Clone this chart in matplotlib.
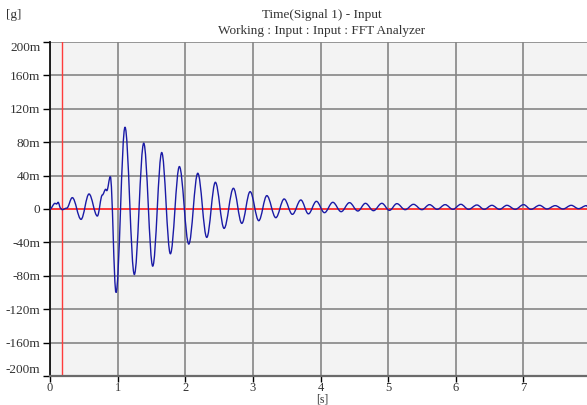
import matplotlib
matplotlib.use("Agg")
import matplotlib.pyplot as plt
from matplotlib.path import Path
from matplotlib.patches import PathPatch

# ---- data (time in s, value in milli-g) ----
ext_t = [0.0, 0.074, 0.097, 0.12, 0.158, 0.18, 0.247, 0.33, 0.459, 0.577, 0.70,
         0.774, 0.824, 0.84, 0.892, 0.976, 1.109, 1.247, 1.386, 1.519, 1.652,
         1.78, 1.913, 2.052, 2.185, 2.318, 2.445, 2.574, 2.712, 2.836, 2.959,
         3.087, 3.206, 3.339, 3.462, 3.584, 3.709, 3.821, 3.939, 4.058, 4.182,
         4.305, 4.428, 4.552, 4.664, 4.783, 4.907, 5.019, 5.129, 5.251, 5.374,
         5.499, 5.611, 5.725, 5.843, 5.957, 6.075, 6.188, 6.312, 6.42, 6.534,
         6.646, 6.756, 6.879, 7.002, 7.111, 7.238, 7.348, 7.47, 7.584, 7.707,
         7.815, 7.929, 7.96]
ext_v = [0.0, 6.8, 6.0, 8.0, 0.8, -0.8, 1.0, 13.6, -12.4, 18.0, -8.4,
         16.8, 23.6, 22.0, 38.8, -100.0, 98.0, -78.4, 78.8, -68.4, 67.6,
         -53.6, 50.8, -42.0, 42.8, -34.0, 32.0, -23.2, 24.8, -17.2, 20.8,
         -14.0, 16.0, -10.4, 12.0, -6.4, 10.8, -5.8, 9.2, -4.4, 8.0,
         -3.2, 7.6, -2.4, 6.8, -2.0, 6.8, -1.6, 6.4, -0.8, 5.6,
         -0.8, 5.2, -0.4, 5.2, -0.4, 5.6, -0.4, 4.8, -0.4, 4.4,
         -0.4, 4.4, -0.4, 5.2, -0.4, 4.4, 0.0, 4.0, 0.0, 4.4,
         0.4, 4.0, 2.0]

yticks = [200, 160, 120, 80, 40, 0, -40, -80, -120, -160, -200]
ytick_labels = ["200m", "160m", "120m", "80m", "40m", "0", "-40m", "-80m",
                "-120m", "-160m", "-200m"]
xticks = [0, 1, 2, 3, 4, 5, 6, 7]
xtick_labels = ["0", "1", "2", "3", "4", "5", "6", "7"]
cursor_t = 0.182

title1 = "Time(Signal 1) - Input"
title2 = "Working : Input : Input : FFT Analyzer"
yunit = "[g]"
xunit = "[s]"

plt.rcParams['font.family'] = ['Liberation Serif', 'DejaVu Serif']

fig = plt.figure(figsize=(5.87, 4.05), dpi=100)
ax = fig.add_axes([50/587, 1-376/405, 537/587, 334/405])
ax.set_facecolor('#f3f3f3')
ax.set_xlim(0, 7.94)
ax.set_ylim(-200, 200)

ax.set_xticks(xticks)
ax.set_xticklabels(xtick_labels, fontsize=9, color='#333333')
ax.set_yticks(yticks)
ax.set_yticklabels(ytick_labels, fontsize=9.5, color='#333333')
for lab, v in zip(ax.get_yticklabels(), yticks):
    if v == 200:
        lab.set_verticalalignment('top')
    elif v == -200:
        lab.set_verticalalignment('bottom')

ax.tick_params(axis='y', direction='out', length=5, width=1, pad=2)
ax.tick_params(axis='x', direction='out', length=4, width=1, pad=0.5)
ax.grid(True, color='#858585', linewidth=1.2)
ax.set_axisbelow(True)
for s in ['top', 'right']:
    ax.spines[s].set_visible(False)
ax.spines['left'].set_color('#111111')
ax.spines['left'].set_linewidth(1.3)
ax.spines['bottom'].set_color('#6a6a6a')
ax.spines['bottom'].set_linewidth(1.6)

# red cursor lines
ax.axhline(0, color='#ff3b3b', linewidth=1.4, zorder=2)
ax.axvline(cursor_t, color='#ff3b3b', linewidth=1.0, zorder=2)

# smooth signal through the read extrema (cubic Bezier, flat tangents)
k = 0.36
verts = [(ext_t[0], ext_v[0])]
codes = [Path.MOVETO]
for i in range(1, len(ext_t)):
    t0, v0 = ext_t[i-1], ext_v[i-1]
    t1, v1 = ext_t[i], ext_v[i]
    dt = t1 - t0
    verts += [(t0 + k*dt, v0), (t1 - k*dt, v1), (t1, v1)]
    codes += [Path.CURVE4, Path.CURVE4, Path.CURVE4]
patch = PathPatch(Path(verts, codes), fill=False, edgecolor='#1a1aa6',
                  linewidth=1.0, zorder=3)
ax.add_patch(patch)

fig.text(0.548, 1-15/405, title1, ha='center', va='center', fontsize=9.5,
         color='#333333')
fig.text(0.548, 1-31/405, title2, ha='center', va='center', fontsize=9.5,
         color='#333333')
fig.text(14/587, 1-15/405, yunit, ha='center', va='center', fontsize=9.5,
         color='#333333')
fig.text(322/587, 1-399.5/405, xunit, ha='center', va='center', fontsize=8.5,
         color='#333333')

fig.savefig('out.png', dpi=100)
